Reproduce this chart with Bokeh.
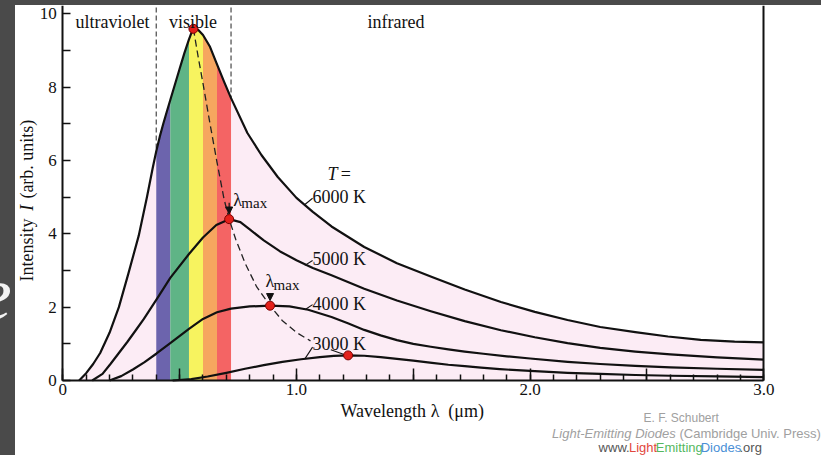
import math

from bokeh.plotting import figure
from bokeh.models import (Range1d, FixedTicker, LinearAxis, Label, Arrow,
                          NormalHead, Spacer, Div)
from bokeh.layouts import column, row
from bokeh.embed import file_html
from bokeh.resources import INLINE

# ---- blackbody spectra: wavelength (um) vs intensity (arb. units) ----
wl_6000 = [0.07, 0.10, 0.13, 0.16, 0.20, 0.24, 0.28, 0.325, 0.36, 0.385, 0.40,
           0.415, 0.43, 0.445, 0.46, 0.50, 0.52, 0.54, 0.55, 0.559, 0.565,
           0.58, 0.60, 0.63, 0.66, 0.69, 0.72, 0.79, 0.85, 0.92, 1.00, 1.07,
           1.15, 1.29, 1.43, 1.58, 1.72, 1.875, 2.02, 2.16, 2.30, 2.45, 2.59,
           2.73, 2.875, 3.0]
i_6000 = [0.0, 0.2, 0.45, 0.75, 1.3, 2.0, 2.9, 3.95, 5.0, 5.8, 6.25,
          6.65, 7.0, 7.33, 7.65, 8.5, 8.92, 9.3, 9.47, 9.59, 9.6,
          9.56, 9.42, 9.1, 8.62, 8.15, 7.7, 6.75, 6.15, 5.55, 4.98, 4.6,
          4.2, 3.64, 3.2, 2.82, 2.48, 2.14, 1.87, 1.65, 1.46, 1.32, 1.2,
          1.11, 1.06, 1.04]

wl_5000 = [0.126, 0.17, 0.204, 0.24, 0.276, 0.31, 0.347, 0.40, 0.46, 0.54,
           0.60, 0.657, 0.712, 0.76, 0.80, 0.86, 0.93, 1.00, 1.07, 1.15, 1.29,
           1.43, 1.575, 1.72, 1.875, 2.02, 2.16, 2.30, 2.45, 2.60, 2.80, 3.0]
i_5000 = [0.0, 0.18, 0.45, 0.75, 1.05, 1.35, 1.68, 2.2, 2.8, 3.45,
          3.9, 4.24, 4.40, 4.32, 4.12, 3.82, 3.52, 3.28, 3.07, 2.87, 2.5,
          2.18, 1.89, 1.62, 1.37, 1.18, 1.02, 0.89, 0.79, 0.71, 0.63, 0.57]

wl_4000 = [0.20, 0.25, 0.30, 0.35, 0.40, 0.46, 0.54, 0.60, 0.66, 0.72, 0.80,
           0.887, 0.97, 1.05, 1.15, 1.22, 1.29, 1.36, 1.43, 1.50, 1.575, 1.65,
           1.72, 1.80, 1.90, 2.00, 2.16, 2.30, 2.45, 2.60, 2.80, 3.0]
i_4000 = [0.0, 0.12, 0.30, 0.50, 0.73, 1.02, 1.41, 1.68, 1.86, 1.96, 2.02,
          2.04, 2.02, 1.93, 1.73, 1.56, 1.38, 1.23, 1.10, 1.0, 0.92, 0.85,
          0.79, 0.73, 0.66, 0.60, 0.51, 0.45, 0.40, 0.36, 0.32, 0.29]

wl_3000 = [0.47, 0.55, 0.62, 0.70, 0.78, 0.86, 0.94, 1.02, 1.10, 1.16, 1.221,
           1.29, 1.36, 1.43, 1.50, 1.58, 1.65, 1.72, 1.79, 1.87, 2.00, 2.16,
           2.30, 2.45, 2.60, 2.80, 3.0]
i_3000 = [0.0, 0.04, 0.11, 0.21, 0.32, 0.42, 0.51, 0.58, 0.64, 0.67, 0.685,
          0.675, 0.64, 0.59, 0.54, 0.48, 0.43, 0.39, 0.35, 0.31, 0.26, 0.21,
          0.18, 0.15, 0.13, 0.11, 0.09]

# peak positions (lambda_max) and the dashed Wien locus through them
peak_wl = [0.559, 0.712, 0.887, 1.221]
peak_i = [9.59, 4.40, 2.04, 0.685]
locus_wl = [0.559, 0.58, 0.60, 0.63, 0.66, 0.69, 0.712, 0.74, 0.78, 0.83,
            0.887, 0.94, 1.00, 1.06]
locus_i = [9.59, 8.8, 8.1, 7.0, 5.95, 4.95, 4.40, 3.85, 3.2, 2.55,
           2.04, 1.63, 1.31, 1.08]

temperatures = ["6000 K", "5000 K", "4000 K", "3000 K"]

# visible spectrum bands
band_edges = [0.40, 0.46, 0.54, 0.60, 0.66, 0.72]
band_colors = ["#6c64ad", "#5fb486", "#f7f35f", "#f6a65f", "#f46464"]
visible_limits = [0.40, 0.72]

x_ticks = [0.0, 0.5, 1.0, 1.5, 2.0, 2.5, 3.0]
x_tick_labels = ["0", "", "1.0", "", "2.0", "", "3.0"]
y_ticks = [0, 1, 2, 3, 4, 5, 6, 7, 8, 9, 10]
y_tick_labels = ["0", "", "2", "", "4", "", "6", "", "8", "", "10"]

SERIF = "Liberation Serif"
SANS = "Liberation Sans"
INK = "#111111"
PINK = "#fcecf5"

# data window: the frame spans the whole canvas, axes sit at x=0 / y=0
X_MIN, X_MAX = -0.2024, 3.2469
Y_MIN, Y_TOP = -2.045, 10.226

p = figure(width=806, height=450, x_range=Range1d(X_MIN, X_MAX),
           y_range=Range1d(Y_MIN, Y_TOP), output_backend="svg",
           toolbar_location=None, title=None,
           min_border_left=0, min_border_right=0, min_border_top=0,
           min_border_bottom=0, background_fill_color="white",
           border_fill_color="white", outline_line_color=None)
p.grid.visible = False

# boundaries of the visible region (lower part hidden by the fills)
for xv in visible_limits:
    p.segment(x0=xv, y0=0, x1=xv, y1=Y_TOP, line_color="#555555",
              line_width=1.3, line_dash="5 3")

# pink area under the 6000 K curve
p.varea(x=wl_6000, y1=[0] * len(wl_6000), y2=i_6000, fill_color=PINK)

# rainbow bands under the 6000 K curve
for k, col in enumerate(band_colors):
    a, b = band_edges[k], band_edges[k + 1]
    xs = [w for w in wl_6000 if a - 1e-9 <= w <= b + 1e-9]
    ys = [v for w, v in zip(wl_6000, i_6000) if a - 1e-9 <= w <= b + 1e-9]
    p.varea(x=xs, y1=[0] * len(xs), y2=ys, fill_color=col)

# spectra
for xs, ys in [(wl_6000, i_6000), (wl_5000, i_5000), (wl_4000, i_4000),
               (wl_3000, i_3000)]:
    p.line(xs, ys, line_color=INK, line_width=2.2, line_join="round")

# Wien displacement locus
p.line(locus_wl, locus_i, line_color="#222222", line_width=1.3,
       line_dash="7 4")

# leader lines from the temperature labels to the curves
leaders = [((1.036, 4.80), (1.069, 4.97)),
           ((1.036, 3.14), (1.069, 3.27)),
           ((1.036, 1.93), (1.069, 2.07)),
           ((1.036, 0.59), (1.069, 0.91)),
           ((1.147, 0.84), (1.204, 0.71))]
for (xa, ya), (xb, yb) in leaders:
    p.segment(x0=xa, y0=ya, x1=xb, y1=yb, line_color=INK, line_width=1.1)

# peak markers
p.scatter(peak_wl, peak_i, size=9, fill_color="#e3201b", line_color="#7a0000",
          line_width=1)

# arrows marking lambda_max
for k in (1, 2):
    p.add_layout(Arrow(end=NormalHead(size=7, fill_color=INK, line_color=INK),
                       x_start=peak_wl[k], y_start=peak_i[k] + 0.65 - 0.2 * k,
                       x_end=peak_wl[k], y_end=peak_i[k] + 0.14,
                       line_color=INK, line_width=1.2))

# axes, pinned at the data origin and bounded to the plotted window
p.xaxis.fixed_location = 0
p.yaxis.fixed_location = 0
p.xaxis.bounds = (0, 3.0)
p.yaxis.bounds = (0, Y_TOP)
p.xaxis.ticker = FixedTicker(ticks=x_ticks,
                             minor_ticks=[k / 10 for k in range(31)])
p.xaxis.major_label_overrides = dict(zip(x_ticks, x_tick_labels))
p.yaxis.ticker = FixedTicker(ticks=y_ticks)
p.yaxis.major_label_overrides = dict(zip(y_ticks, y_tick_labels))
for ax in (p.xaxis, p.yaxis):
    ax.axis_line_width = 2
    ax.axis_line_color = INK
    ax.major_tick_line_color = INK
    ax.minor_tick_line_color = INK
    ax.major_tick_line_width = 1.5
    ax.minor_tick_line_width = 1.5
    ax.major_tick_out = 0
    ax.minor_tick_out = 0
    ax.major_label_text_font = SERIF
    ax.major_label_text_font_size = "17px"
    ax.major_label_text_color = INK
p.xaxis.major_tick_in = 12
p.xaxis.minor_tick_in = 6
p.xaxis.major_label_standoff = 3
p.yaxis.major_tick_in = 8
p.yaxis.minor_tick_in = 0
p.yaxis.major_label_standoff = 6

right = LinearAxis(ticker=FixedTicker(ticks=[5]), fixed_location=3.0,
                   bounds=(0, Y_TOP), axis_line_width=2,
                   axis_line_color=INK, major_tick_in=0, major_tick_out=0,
                   minor_tick_in=0, minor_tick_out=0,
                   major_label_overrides={5: ""})
p.add_layout(right, "right")


def label(x, y, text, size="17px", style="normal", font=SERIF, color=INK,
          baseline="middle", align="left", angle=0.0):
    p.add_layout(Label(x=x, y=y, text=text, text_font=font,
                       text_font_size=size, text_font_style=style,
                       text_color=color, text_baseline=baseline,
                       text_align=align, angle=angle))


# region names
label(0.054, 9.77, "ultraviolet", size="18px", baseline="alphabetic")
label(0.454, 9.77, "visible", size="18px", baseline="alphabetic")
label(1.304, 9.77, "infrared", size="18px", baseline="alphabetic")

# temperature labels
label(1.133, 5.64, "T", size="18px", style="italic")
label(1.19, 5.64, "=", size="18px")
for txt, yv in zip(temperatures, [5.0, 3.32, 2.09, 1.0]):
    label(1.069, yv, txt, size="18px")

# lambda_max labels
label(0.730, 4.93, "\u03bb", size="18px")
label(0.764, 4.83, "max", size="15px")
label(0.868, 2.70, "\u03bb", size="18px")
label(0.902, 2.60, "max", size="15px")

# axis titles
label(-0.155, 2.70, "Intensity", size="18px", angle=math.pi / 2)
label(-0.155, 4.63, "I", size="18px", style="italic", angle=math.pi / 2)
label(-0.155, 4.96, "(arb. units)", size="18px", angle=math.pi / 2)
label(1.188, -0.82, "Wavelength", size="18px")
label(1.575, -0.82, "\u03bb", size="18px")
label(1.650, -0.82, "(\u03bcm)", size="18px")

# credit lines
GREY = "#a0a0a0"
label(2.485, -1.01, "E. F. Schubert", size="12px", font=SANS, color=GREY)
label(2.094, -1.445, "Light-Emitting Diodes", size="13px", font=SANS,
      color=GREY, style="italic")
label(2.639, -1.445, "(Cambridge Univ. Press)", size="13px", font=SANS,
      color=GREY)
credit_parts = [("www.", "#555555", 2.293), ("Light", "#e2473d", 2.423),
                ("Emitting", "#55b85f", 2.538), ("Diodes", "#4a8fd6", 2.730),
                (".org", "#555555", 2.896)]
for txt, col, xv in credit_parts:
    label(xv, -1.82, txt, size="13px", font=SANS, color=col)

DARK = "#4a4a4a"
top_strip = Spacer(width=821, height=5, margin=0,
                   styles={"background-color": DARK})
left_strip = Div(
    text=('<span style="position:absolute; left:-22px; top:250px; '
          'font-family:\'Liberation Serif\'; font-style:italic; '
          'font-size:76px; line-height:76px; color:#f2f2f2;">e</span>'),
    width=15, height=450, margin=0,
    styles={"background-color": DARK, "overflow": "hidden",
            "position": "relative", "max-width": "15px"})
page = column(top_strip, row(left_strip, p))

open("out.html", "w").write(file_html(page, INLINE))
